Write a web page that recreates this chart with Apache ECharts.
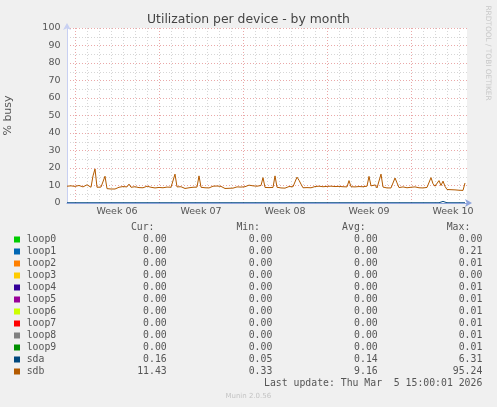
<!DOCTYPE html>
<html>
<head>
<meta charset="utf-8">
<script src="https://cdn.jsdelivr.net/npm/echarts@6/dist/echarts.min.js"></script>
<style>
html,body{margin:0;padding:0;background:#f0f0f0;}
#c{width:497px;height:407px;}
</style>
</head>
<body>
<div id="c"></div>
<script>
// ---- data ----
const TITLE = 'Utilization per device - by month';
const Y_NAME = '% busy';
const SAMPLE_HOURS = 4;           // one sample every 4 hours
const X_MIN = 0, X_MAX = 800;     // hours shown on the x axis
const WEEK_START_HOURS = [16, 184, 352, 520, 688];
const WEEK_LABELS = ['Week 06', 'Week 07', 'Week 08', 'Week 09', 'Week 10'];
const Y_TICKS = [0, 10, 20, 30, 40, 50, 60, 70, 80, 90, 100];

const sdbValues = [
 9.6, 9.2, 9.8, 9.0, 9.5, 9.3, 10.0, 9.1, 9.2, 9.6,
 10.4, 9.4, 9.0, 15.5, 19.5, 9.0, 8.9, 9.1, 9.0, 15.3,
 8.2, 8.0, 8.0, 8.1, 8.0, 8.3, 9.0, 8.6, 9.4, 8.7,
 9.2, 10.8, 9.0, 8.5, 9.3, 8.4, 8.8, 9.5, 8.7, 9.2,
 9.6, 9.3, 9.0, 9.4, 8.6, 9.2, 8.9, 9.5, 8.7, 9.3,
 9.1, 9.6, 9.0, 9.4, 16.5, 9.2, 8.8, 9.3, 8.6, 8.3,
 8.2, 8.7, 9.2, 9.0, 9.4, 9.1, 15.5, 9.0, 8.8, 8.7,
 8.8, 8.6, 8.9, 9.6, 9.5, 9.7, 9.4, 9.5, 9.2, 8.3,
 8.2, 8.4, 8.2, 8.5, 8.9, 9.2, 9.4, 9.1, 9.6, 9.3,
 9.5, 10.2, 9.4, 9.8, 9.2, 9.6, 9.3, 10.0, 14.5, 8.9,
 8.6, 8.8, 8.7, 8.9, 15.5, 9.0, 8.7, 8.6, 8.8, 8.5,
 8.2, 9.4, 9.6, 9.3, 9.8, 14.8, 13.0, 10.8, 8.7, 8.6,
 8.8, 8.6, 8.7, 8.5, 9.4, 8.8, 9.6, 9.0, 9.3, 8.7,
 9.5, 9.2, 9.6, 9.1, 9.4, 9.0, 9.5, 8.9, 9.3, 9.7,
 9.2, 12.8, 9.3, 9.0, 9.2, 8.9, 9.4, 9.1, 9.3, 9.0,
 9.6, 15.2, 9.8, 9.0, 10.3, 8.6, 9.0, 16.5, 9.1, 8.8,
 8.6, 8.7, 8.6, 9.0, 14.3, 11.5, 8.8, 8.6, 9.2, 8.6,
 8.7, 8.6, 9.0, 9.8, 9.2, 8.9, 8.7, 8.8, 8.6, 9.2,
 8.9, 9.3, 14.5, 11.0, 9.6, 8.8, 12.8, 10.0, 12.5, 9.5,
 7.7, 7.6, 7.6, 7.5, 7.5, 7.4, 7.3, 7.3, 7.2, 11.43
];
const sdaValues = [
 0.14,0.14,0.14,0.14,0.14,0.14,0.14,0.14,0.14,0.14,
 0.14,0.14,0.14,0.14,0.14,0.14,0.14,0.14,0.14,0.14,
 0.14,0.14,0.14,0.14,0.14,0.14,0.14,0.14,0.14,0.9,
 0.14,0.14,0.14,0.14,0.14,0.14,0.14,0.14,0.14,0.14,
 0.14,0.14,0.14,0.14,0.14,0.14,0.14,0.14,0.14,0.14,
 0.14,0.14,0.14,0.14,0.14,0.14,0.14,0.14,0.14,0.14,
 0.14,0.14,0.14,0.14,0.14,0.14,0.14,0.14,0.14,0.14,
 0.14,0.14,0.14,0.14,0.14,0.14,0.14,0.9,0.14,0.14,
 0.14,0.14,0.14,0.14,0.14,0.14,0.14,0.14,0.14,0.14,
 0.14,0.14,0.14,0.14,0.14,0.14,0.14,0.14,0.14,0.14,
 0.14,0.14,0.14,0.14,0.14,0.14,0.14,0.14,0.14,0.14,
 0.14,0.14,0.14,0.14,0.14,0.14,0.14,0.14,0.14,0.14,
 0.14,0.14,0.14,0.14,0.14,0.14,0.14,0.14,0.14,0.14,
 0.14,0.14,0.14,0.14,0.14,0.14,0.14,0.14,0.14,0.14,
 0.14,0.14,0.14,0.14,0.14,0.14,0.14,0.14,0.14,0.9,
 0.14,0.14,0.14,0.14,0.14,0.14,0.14,0.14,0.14,0.14,
 0.14,0.14,0.14,0.14,0.14,0.14,0.14,0.14,0.14,0.14,
 0.14,0.14,0.14,0.14,0.14,0.14,0.14,0.14,0.14,0.14,
 0.14,0.14,0.14,0.14,0.14,0.14,0.14,0.14,0.9,0.14,
 0.14,0.9,0.14,0.14,0.14,0.14,0.14,0.14,0.14,0.16
];

const legendNames  = ['loop0','loop1','loop2','loop3','loop4','loop5','loop6','loop7','loop8','loop9','sda','sdb'];
const legendColors = ['#00CC00','#0066B3','#FF8000','#FFCC00','#330099','#990099','#CCFF00','#FF0000','#808080','#008F00','#00487D','#B35A00'];
const legendCur = ['0.00','0.00','0.00','0.00','0.00','0.00','0.00','0.00','0.00','0.00','0.16','11.43'];
const legendMin = ['0.00','0.00','0.00','0.00','0.00','0.00','0.00','0.00','0.00','0.00','0.05','0.33'];
const legendAvg = ['0.00','0.00','0.00','0.00','0.00','0.00','0.00','0.00','0.00','0.00','0.14','9.16'];
const legendMax = ['0.00','0.21','0.01','0.00','0.01','0.01','0.01','0.01','0.01','0.01','6.31','95.24'];
const columnHeaders = ['Cur:', 'Min:', 'Avg:', 'Max:'];
const LAST_UPDATE = 'Last update: Thu Mar  5 15:00:01 2026';
const FOOTER = 'Munin 2.0.56';
const WATERMARK = 'RRDTOOL / TOBI OETIKER';

// ---- derived ----
const toPairs = vals => vals.map((v, i) => [i * SAMPLE_HOURS, v]);
const dayLines = [];
for (let h = WEEK_START_HOURS[0]; h < X_MAX; h += 24) dayLines.push(h);
const weekLabelPos = WEEK_START_HOURS.map(h => h + 84);

const SANS = 'DejaVu Sans';
const MONO = 'DejaVu Sans Mono';
const TXT = '#555555';
const RED_GRID = '#eaa8a8';
const GRAY_GRID = '#d6d6d6';

const graphics = [];
const rowY0 = 239.5, rowStep = 12;
const colRight = [166.7, 272.3, 377.7, 482.3];
const headRight = [154.5, 260, 365.7, 470.3];
const monoFont = '9.8px "' + MONO + '"';
columnHeaders.forEach((h, j) => {
  graphics.push({type:'text', x: headRight[j], y: 227.8, silent:true,
    style:{text:h, font:monoFont, fill:TXT, align:'right', verticalAlign:'middle', textAlign:'right', textVerticalAlign:'middle'}});
});
const cols = [legendCur, legendMin, legendAvg, legendMax];
legendNames.forEach((n, i) => {
  const y = rowY0 + rowStep * i;
  graphics.push({type:'rect', shape:{x:14, y:y - 3, width:6, height:6}, style:{fill:legendColors[i]}, silent:true});
  graphics.push({type:'text', x:26.7, y:y, silent:true,
    style:{text:n, font:monoFont, fill:TXT, align:'left', verticalAlign:'middle', textAlign:'left', textVerticalAlign:'middle'}});
  cols.forEach((c, j) => {
    graphics.push({type:'text', x:colRight[j], y:y, silent:true,
      style:{text:c[i], font:monoFont, fill:TXT, align:'right', verticalAlign:'middle', textAlign:'right', textVerticalAlign:'middle'}});
  });
});
graphics.push({type:'text', x:482.3, y:383.5, silent:true,
  style:{text:LAST_UPDATE, font:monoFont, fill:TXT, align:'right', verticalAlign:'middle', textAlign:'right', textVerticalAlign:'middle'}});
graphics.push({type:'text', x:248.3, y:396.5, silent:true,
  style:{text:FOOTER, font:'7px "' + SANS + '"', fill:'#c4c4c4', align:'center', verticalAlign:'middle', textAlign:'center', textVerticalAlign:'middle'}});
graphics.push({type:'text', x:487.5, y:53, rotation:-Math.PI/2, silent:true,
  style:{text:WATERMARK, font:'7.4px "' + SANS + '"', fill:'#c8c8c8', align:'center', verticalAlign:'middle', textAlign:'center', textVerticalAlign:'middle'}});

const chart = echarts.init(document.getElementById('c'), null, {renderer:'canvas'});
const commonX = {type:'value', min:X_MIN, max:X_MAX, gridIndex:0, position:'bottom'};
chart.setOption({
  backgroundColor:'#f0f0f0',
  animation:false,
  title:{text:TITLE, left:'center', top:13.5, padding:0,
    textStyle:{fontFamily:SANS, fontSize:12.4, fontWeight:'normal', color:'#444'}},
  grid:{left:67, top:28, width:400, height:175, show:true, backgroundColor:'#ffffff', borderWidth:0,
    containLabel:false, outerBoundsMode:'none'},
  xAxis:[
    Object.assign({}, commonX, {
      zlevel:1, z:10,
      axisLine:{show:true, lineStyle:{color:'#8ea4dc', width:1}, symbol:['none','arrow'], symbolSize:[6,7], symbolOffset:[0,5]},
      axisTick:{show:false}, axisLabel:{show:false}, splitLine:{show:false}
    }),
    Object.assign({}, commonX, {
      z:0,
      axisLine:{show:false}, axisTick:{show:false, customValues:dayLines},
      axisLabel:{show:false},
      splitLine:{show:true, lineStyle:{color:GRAY_GRID, type:[1,2], width:1}}
    }),
    Object.assign({}, commonX, {
      z:1,
      axisLine:{show:false}, axisTick:{show:false, customValues:WEEK_START_HOURS},
      axisLabel:{show:true, customValues:weekLabelPos, margin:4,
        fontFamily:SANS, fontSize:9.5, color:TXT,
        formatter: v => WEEK_LABELS[weekLabelPos.indexOf(v)] || ''},
      splitLine:{show:true, lineStyle:{color:RED_GRID, type:[1,2], width:1}}
    })
  ],
  yAxis:[{
    type:'value', min:Y_TICKS[0], max:Y_TICKS[Y_TICKS.length-1], interval:Y_TICKS[1]-Y_TICKS[0],
    name:Y_NAME, nameLocation:'middle', nameGap:53,
    nameTextStyle:{fontFamily:SANS, fontSize:11, color:TXT},
    axisLine:{show:true, lineStyle:{color:'#c8d0f2', width:1}, symbol:['none','arrow'], symbolSize:[6,7], symbolOffset:[0,5]},
    axisTick:{show:false},
    axisLabel:{margin:6.5, fontFamily:SANS, fontSize:9.5, color:TXT},
    splitLine:{show:true, lineStyle:{color:RED_GRID, type:[1,2], width:1}},
    minorTick:{show:false, splitNumber:2},
    minorSplitLine:{show:true, lineStyle:{color:GRAY_GRID, type:[1,2], width:1}}
  }],
  series:[
    {name:'sda', type:'line', xAxisIndex:0, yAxisIndex:0, data:toPairs(sdaValues), showSymbol:false,
      lineStyle:{color:'#00487D', width:1}, itemStyle:{color:'#00487D'}, z:3},
    {name:'sdb', type:'line', xAxisIndex:0, yAxisIndex:0, data:toPairs(sdbValues), showSymbol:false,
      lineStyle:{color:'#B35A00', width:1}, itemStyle:{color:'#B35A00'}, z:4}
  ],
  graphic:graphics
});
</script>
</body>
</html>
